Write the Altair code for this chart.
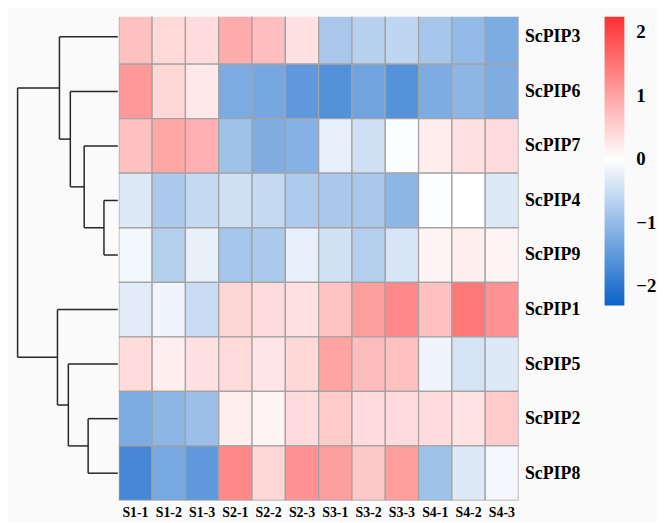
import json
import altair as alt
import pandas as pd

rows = ["ScPIP3", "ScPIP6", "ScPIP7", "ScPIP4", "ScPIP9", "ScPIP1", "ScPIP5", "ScPIP2", "ScPIP8"]
cols = ["S1-1", "S1-2", "S1-3", "S2-1", "S2-2", "S2-3", "S3-1", "S3-2", "S3-3", "S4-1", "S4-2", "S4-3"]

v_pip3 = [0.69, 0.42, 0.39, 0.90, 0.72, 0.33, -0.82, -0.68, -0.60, -0.83, -1.00, -1.22]
v_pip6 = [1.11, 0.43, 0.25, -1.23, -1.29, -1.49, -1.62, -1.34, -1.60, -1.22, -1.07, -1.20]
v_pip7 = [0.69, 0.96, 0.87, -0.90, -1.20, -1.14, -0.23, -0.45, -0.03, 0.20, 0.33, 0.39]
v_pip4 = [-0.32, -0.78, -0.55, -0.45, -0.55, -0.76, -0.80, -0.82, -1.07, -0.03, 0.00, -0.32]
v_pip9 = [-0.12, -0.70, -0.22, -0.84, -0.78, -0.23, -0.42, -0.70, -0.38, 0.12, 0.19, 0.12]
v_pip1 = [-0.28, -0.15, -0.51, 0.45, 0.39, 0.34, 0.65, 1.05, 1.29, 0.69, 1.47, 1.18]
v_pip5 = [0.39, 0.19, 0.33, 0.39, 0.28, 0.43, 1.00, 0.73, 0.69, -0.15, -0.40, -0.32]
v_pip2 = [-1.22, -1.07, -0.94, 0.19, 0.12, 0.39, 0.57, 0.39, 0.39, 0.39, 0.30, 0.57]
v_pip8 = [-1.74, -1.27, -1.50, 1.29, 0.43, 1.18, 1.05, 0.60, 1.08, -0.90, -0.32, -0.10]
row_values = [v_pip3, v_pip6, v_pip7, v_pip4, v_pip9, v_pip1, v_pip5, v_pip2, v_pip8]

# hierarchical clustering merges (node, left child, right child, height)
merge_nodes = ["D", "C", "B", "A", "G", "F", "E", "R"]
merge_left = ["ScPIP4", "ScPIP7", "ScPIP6", "ScPIP3", "ScPIP2", "ScPIP5", "ScPIP1", "A"]
merge_right = ["ScPIP9", "D", "C", "B", "ScPIP8", "G", "F", "E"]
merge_height = [1.4, 3.4, 4.8, 5.9, 3.0, 5.0, 6.1, 10.13]

legend_values = [-2, -1, 0, 1, 2]

FONT = "Liberation Serif"
Y_DOMAIN = [0.13, 9]

# heatmap table
recs = []
for i, (r, vals) in enumerate(zip(rows, row_values)):
    for c, v in zip(cols, vals):
        recs.append({"row": r, "col": c, "value": v, "y0": i, "y1": i + 1})
heat_df = pd.DataFrame(recs)

# dendrogram segments
pos = {r: i + 0.5 for i, r in enumerate(rows)}
hgt = {r: 0.0 for r in rows}
segs = []
for n, l, r, h in zip(merge_nodes, merge_left, merge_right, merge_height):
    for c in (l, r):
        segs.append({"x": hgt[c], "x2": h, "y": pos[c], "y2": pos[c]})
    segs.append({"x": h, "x2": h, "y": pos[l], "y2": pos[r]})
    pos[n] = (pos[l] + pos[r]) / 2
    hgt[n] = h
seg_df = pd.DataFrame(segs)

dendro = alt.Chart(seg_df).mark_rule(color="#262626", strokeWidth=1.5).encode(
    x=alt.X("x:Q", scale=alt.Scale(domain=[0, 10.9], reverse=True, nice=False, zero=False), axis=None),
    x2="x2:Q",
    y=alt.Y("y:Q", scale=alt.Scale(domain=Y_DOMAIN, reverse=True, nice=False, zero=False), axis=None),
    y2="y2:Q",
).properties(width=109, height=489)

label_expr = json.dumps(rows) + "[floor(datum.value)]"

heat = alt.Chart(heat_df).mark_rect(stroke="#a3a3a3", strokeWidth=1.3, clip=True).encode(
    x=alt.X("col:N", sort=cols, scale=alt.Scale(paddingInner=0, paddingOuter=0),
            axis=alt.Axis(title=None, orient="bottom", labelAngle=0, ticks=False, domain=False,
                          labelFont=FONT, labelFontWeight="bold", labelFontSize=14,
                          labelColor="black", labelPadding=5)),
    y=alt.Y("y0:Q", scale=alt.Scale(domain=Y_DOMAIN, reverse=True, nice=False, zero=False),
            axis=alt.Axis(title=None, orient="right", values=[i + 0.5 for i in range(len(rows))],
                          labelExpr=label_expr, ticks=False, tickSize=0, domain=False, grid=False,
                          labelFont=FONT, labelFontWeight="bold", labelFontSize=18,
                          labelColor="black", labelPadding=6, labelOverlap=False, labelFlush=False)),
    y2="y1:Q",
    color=alt.Color("value:Q",
                    scale=alt.Scale(domain=[-2.3, 0, 2.25], range=["#0a62c8", "#ffffff", "#ff3030"],
                                    interpolate="rgb"),
                    legend=alt.Legend(orient="none", legendX=601, legendY=0, title=None,
                                      direction="vertical", gradientLength=292, gradientThickness=20,
                                      gradientStrokeWidth=0, values=legend_values,
                                      labelFont=FONT, labelFontWeight="bold", labelFontSize=19,
                                      labelColor="black", labelOffset=12, labelLimit=60)),
).properties(width=404, height=489)

chart = alt.hconcat(dendro, heat, spacing=0).properties(
    padding={"left": 2, "top": 6, "right": 0, "bottom": 0},
    background="#fafafa",
).configure_view(strokeWidth=0)

chart.save("out.html", embed_options={"renderer": "svg", "actions": False})
